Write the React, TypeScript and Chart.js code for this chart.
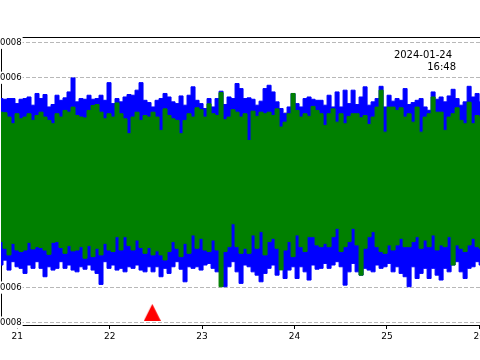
import React, { useEffect, useRef } from "react";
import { Chart, registerables } from "chart.js";

Chart.register(...registerables);

// Sampling of the trace (day of month, January 2024)
const sampleStart = 20.8236;
const sampleStep = 0.0433;

// Envelope values of each trace, in micro-units (x 1e-6)
const blueTop = [
  4.81, 4.77, 4.81, 4.81, 4.52, 4.77, 4.81, 4.90, 4.43, 5.10,
  4.81, 5.04, 4.33, 4.47, 5.00, 4.71, 4.85, 5.19, 5.99, 4.62,
  4.81, 4.77, 5.00, 4.77, 4.81, 5.00, 4.71, 5.72, 4.52, 4.81,
  4.62, 4.90, 5.04, 5.00, 5.29, 5.72, 4.71, 4.58, 4.33, 4.71,
  4.81, 5.10, 4.90, 4.62, 4.52, 4.96, 4.43, 5.00, 5.48, 4.71,
  4.52, 4.24, 4.81, 4.33, 4.81, 5.23, 4.47, 4.90, 4.81, 5.67,
  5.38, 4.81, 4.85, 4.77, 4.43, 4.66, 5.38, 5.57, 5.19, 4.62,
  4.24, 3.95, 4.33, 5.10, 4.52, 4.33, 4.81, 4.90, 4.77, 4.71,
  4.71, 4.43, 5.00, 4.33, 5.19, 4.33, 5.29, 4.52, 5.29, 4.47,
  4.90, 5.48, 4.43, 4.62, 4.81, 5.51, 4.33, 5.00, 4.66, 4.81,
  4.71, 5.38, 4.47, 4.58, 4.71, 4.81, 4.33, 4.14, 5.19, 4.77,
  4.90, 4.62, 4.96, 5.34, 4.81, 4.43, 4.62, 5.51, 4.90, 5.10,
  4.62, 4.90, 4.52, 5.00, 4.71,
];

const blueBottom = [
  -4.71, -4.43, -5.00, -4.52, -4.81, -4.90, -5.19, -4.71, -4.90, -4.52,
  -4.90, -5.38, -4.81, -5.00, -4.90, -4.52, -4.90, -4.71, -5.00, -5.10,
  -4.81, -4.95, -4.71, -5.00, -5.19, -5.82, -4.52, -4.90, -4.71, -5.00,
  -4.90, -5.10, -4.81, -4.90, -4.71, -5.00, -5.10, -4.81, -5.10, -4.81,
  -5.38, -4.90, -5.19, -4.81, -4.52, -4.95, -5.67, -4.81, -4.90, -4.81,
  -5.00, -4.71, -4.62, -4.90, -5.10, -4.81, -5.95, -4.81, -4.52, -5.10,
  -5.76, -4.71, -4.81, -5.10, -5.29, -5.67, -5.19, -4.90, -4.71, -5.29,
  -4.81, -5.48, -5.00, -4.81, -5.48, -4.81, -5.10, -5.57, -4.71, -4.95,
  -4.90, -4.62, -4.90, -4.71, -4.52, -4.81, -5.86, -5.10, -4.62, -5.10,
  -5.29, -4.90, -5.00, -5.10, -4.71, -4.90, -4.81, -4.62, -5.10, -4.81,
  -5.19, -5.38, -5.95, -4.81, -5.48, -5.19, -4.90, -5.48, -4.90, -5.29,
  -5.57, -4.90, -5.10, -4.71, -4.52, -5.10, -5.48, -4.90, -4.81, -4.52,
  -4.71, -5.00, -4.81, -5.10, -4.90,
];

const greenTop = [
  4.03, 4.00, 3.75, 3.37, 3.94, 3.65, 3.75, 3.94, 3.56, 3.84,
  4.03, 3.75, 3.56, 3.37, 3.94, 3.75, 4.13, 4.03, 4.32, 3.84,
  3.75, 3.70, 4.13, 4.41, 4.47, 4.03, 3.65, 3.94, 3.75, 4.56,
  3.94, 3.65, 2.80, 3.75, 4.03, 3.56, 3.84, 3.75, 4.03, 3.75,
  2.99, 4.22, 3.84, 3.65, 3.56, 2.80, 3.56, 3.94, 3.75, 4.28,
  4.17, 3.75, 4.51, 3.94, 3.84, 5.15, 3.60, 3.75, 4.17, 4.03,
  3.75, 3.94, 2.41, 4.09, 3.79, 4.03, 3.94, 4.03, 3.84, 4.22,
  3.18, 3.46, 3.94, 5.10, 4.13, 3.75, 3.94, 3.79, 4.36, 4.13,
  3.94, 3.27, 3.94, 4.22, 3.46, 3.94, 3.37, 3.79, 3.94, 3.94,
  3.71, 3.84, 3.33, 3.75, 4.32, 5.29, 2.89, 4.32, 4.32, 4.13,
  4.28, 3.75, 3.94, 3.46, 4.32, 2.89, 3.75, 3.94, 4.90, 4.03,
  4.03, 2.99, 3.75, 3.94, 4.28, 3.56, 3.37, 4.60, 3.37, 3.84,
  3.75, 3.94, 3.65, 4.03, 3.84,
];

const greenBottom = [
  -3.37, -3.75, -4.13, -3.47, -3.85, -3.94, -3.85, -3.41, -3.79, -3.66,
  -3.71, -3.85, -4.10, -3.41, -3.37, -3.71, -4.04, -3.60, -3.90, -3.85,
  -3.66, -4.32, -3.60, -4.23, -3.75, -4.13, -3.47, -3.85, -3.94, -3.09,
  -3.85, -3.09, -3.60, -3.85, -3.28, -3.71, -4.04, -3.71, -4.13, -3.90,
  -4.13, -4.42, -3.94, -3.37, -3.75, -4.23, -3.47, -4.04, -2.99, -3.75,
  -3.18, -3.85, -3.94, -3.28, -3.85, -5.95, -3.94, -3.66, -2.35, -3.66,
  -4.04, -3.75, -4.04, -2.99, -3.75, -2.80, -4.13, -3.37, -3.18, -3.75,
  -4.99, -3.85, -3.37, -4.23, -2.99, -3.66, -3.94, -3.09, -3.09, -3.56,
  -3.66, -3.47, -3.66, -3.09, -2.61, -3.94, -3.66, -3.37, -2.61, -3.56,
  -5.29, -3.75, -3.09, -2.80, -3.66, -3.94, -4.04, -3.56, -3.85, -3.56,
  -3.18, -3.66, -3.66, -3.37, -3.09, -3.75, -3.28, -3.66, -2.99, -3.85,
  -3.56, -3.66, -3.09, -4.71, -3.56, -3.75, -3.94, -3.56, -3.18, -3.66,
  -3.75, -3.47, -3.85, -3.56, -3.66,
];

// Axis ticks
const dayTicks = [21, 22, 23, 24, 25, 26];
const levelTicks = [-8, -6, -4, -2, 0, 2, 4, 6, 8];
const labelledLevels = [-8, -6, 6, 8];

// Event marker
const eventTimes = [22.461];
const eventLevels = [-7.42];

// Time stamp
const stampDate = "2024-01-24";
const stampTime = "16:48";

const xMin = 20.8236;
const xMax = 26.224;
const yMin = -8.14;
const yMax = 8.33;

const toPoints = (vals: number[]) =>
  vals.map((v, i) => ({ x: sampleStart + i * sampleStep, y: v }));

const isLabelled = (v: number) => labelledLevels.some((l) => Math.abs(l - v) < 1e-9);

export default function App() {
  const ref = useRef<HTMLCanvasElement | null>(null);

  useEffect(() => {
    if (!ref.current) return;
    Chart.defaults.font.family = "'DejaVu Sans', sans-serif";

    const tri = document.createElement("canvas");
    tri.width = 17;
    tri.height = 17;
    const tctx = tri.getContext("2d")!;
    tctx.fillStyle = "#ff0000";
    tctx.beginPath();
    tctx.moveTo(0, 17);
    tctx.lineTo(17, 17);
    tctx.lineTo(8.5, 0);
    tctx.closePath();
    tctx.fill();

    const stampPlugin = {
      id: "stamp",
      afterDraw(chart: any) {
        const { ctx, chartArea } = chart;
        ctx.save();
        ctx.font = "10px 'DejaVu Sans'";
        ctx.fillStyle = "#000";
        ctx.textAlign = "right";
        ctx.textBaseline = "alphabetic";
        ctx.fillText(stampDate, 452, chartArea.top + 21);
        ctx.fillText(stampTime, 456, chartArea.top + 33);
        ctx.restore();
      },
    };

    const lineSet = (label: string, vals: number[], color: string, fill: any) => ({
      label,
      data: toPoints(vals),
      borderColor: color,
      backgroundColor: color,
      borderWidth: 1,
      pointRadius: 0,
      stepped: "middle",
      fill,
    });

    const chart = new Chart(ref.current, {
      type: "line",
      data: {
        datasets: [
          {
            label: "event",
            data: eventTimes.map((t, i) => ({ x: t, y: eventLevels[i] })),
            showLine: false,
            pointStyle: tri as any,
            pointRadius: 8,
            clip: false as any,
          },
          lineSet("greenTop", greenTop, "#008000", "+1"),
          lineSet("greenBottom", greenBottom, "#008000", false),
          lineSet("blueTop", blueTop, "#0000ff", "+1"),
          lineSet("blueBottom", blueBottom, "#0000ff", false),
        ] as any,
      },
      options: {
        animation: false,
        responsive: false,
        devicePixelRatio: 1,
        layout: {
          autoPadding: false,
          padding: { top: 37, left: 0, right: 0, bottom: 0 },
        },
        plugins: {
          legend: { display: false },
          tooltip: { enabled: false },
        },
        scales: {
          x: {
            type: "linear",
            position: "bottom",
            min: xMin,
            max: xMax,
            afterBuildTicks: (s: any) => {
              s.ticks = dayTicks.map((v) => ({ value: v }));
            },
            afterFit: (s: any) => {
              s.height = 35;
              s.paddingLeft = 0;
              s.paddingRight = 0;
            },
            grid: {
              drawOnChartArea: false,
              drawTicks: true,
              tickLength: 4,
              tickColor: "#000",
              color: "#000",
            },
            border: { display: true, color: "#000", width: 1 },
            ticks: {
              color: "#000",
              font: { size: 9 },
              padding: 2,
              maxRotation: 0,
              autoSkip: false,
              callback: (v: any) => String(v),
            },
          },
          xTop: {
            type: "linear",
            position: "top",
            min: xMin,
            max: xMax,
            afterFit: (s: any) => {
              s.height = 0;
              s.paddingLeft = 0;
              s.paddingRight = 0;
            },
            grid: { drawOnChartArea: false, drawTicks: false },
            border: { display: true, color: "#000", width: 1 },
            ticks: { display: false },
          },
          y: {
            type: "linear",
            position: "left",
            min: yMin,
            max: yMax,
            afterBuildTicks: (s: any) => {
              s.ticks = levelTicks.map((v) => ({ value: v }));
            },
            afterFit: (s: any) => {
              s.width = 1;
              s.paddingTop = 0;
              s.paddingBottom = 0;
            },
            grid: {
              drawOnChartArea: true,
              drawTicks: false,
              color: "#b8b8b8",
              lineWidth: 1,
            },
            border: { display: true, color: "#000", width: 1, dash: [4, 2] },
            ticks: {
              mirror: true,
              crossAlign: "far",
              padding: -23,
              color: "#000",
              font: { size: 8.5 },
              showLabelBackdrop: (c: any) => !!c.tick && isLabelled(c.tick.value),
              backdropColor: "#fff",
              backdropPadding: 1,
              callback: (v: any) => {
                const n = Number(v);
                if (!isLabelled(n)) return "";
                return (n * 1e-6).toFixed(6);
              },
            },
          },
        },
      } as any,
      plugins: [stampPlugin],
    });

    return () => chart.destroy();
  }, []);

  return (
    <div
      style={{
        position: "fixed",
        left: 0,
        top: 0,
        width: 480,
        height: 360,
        overflow: "hidden",
        background: "#fff",
      }}
    >
      <canvas
        ref={ref}
        width={500}
        height={360}
        style={{ display: "block", width: 500, height: 360 }}
      />
    </div>
  );
}
